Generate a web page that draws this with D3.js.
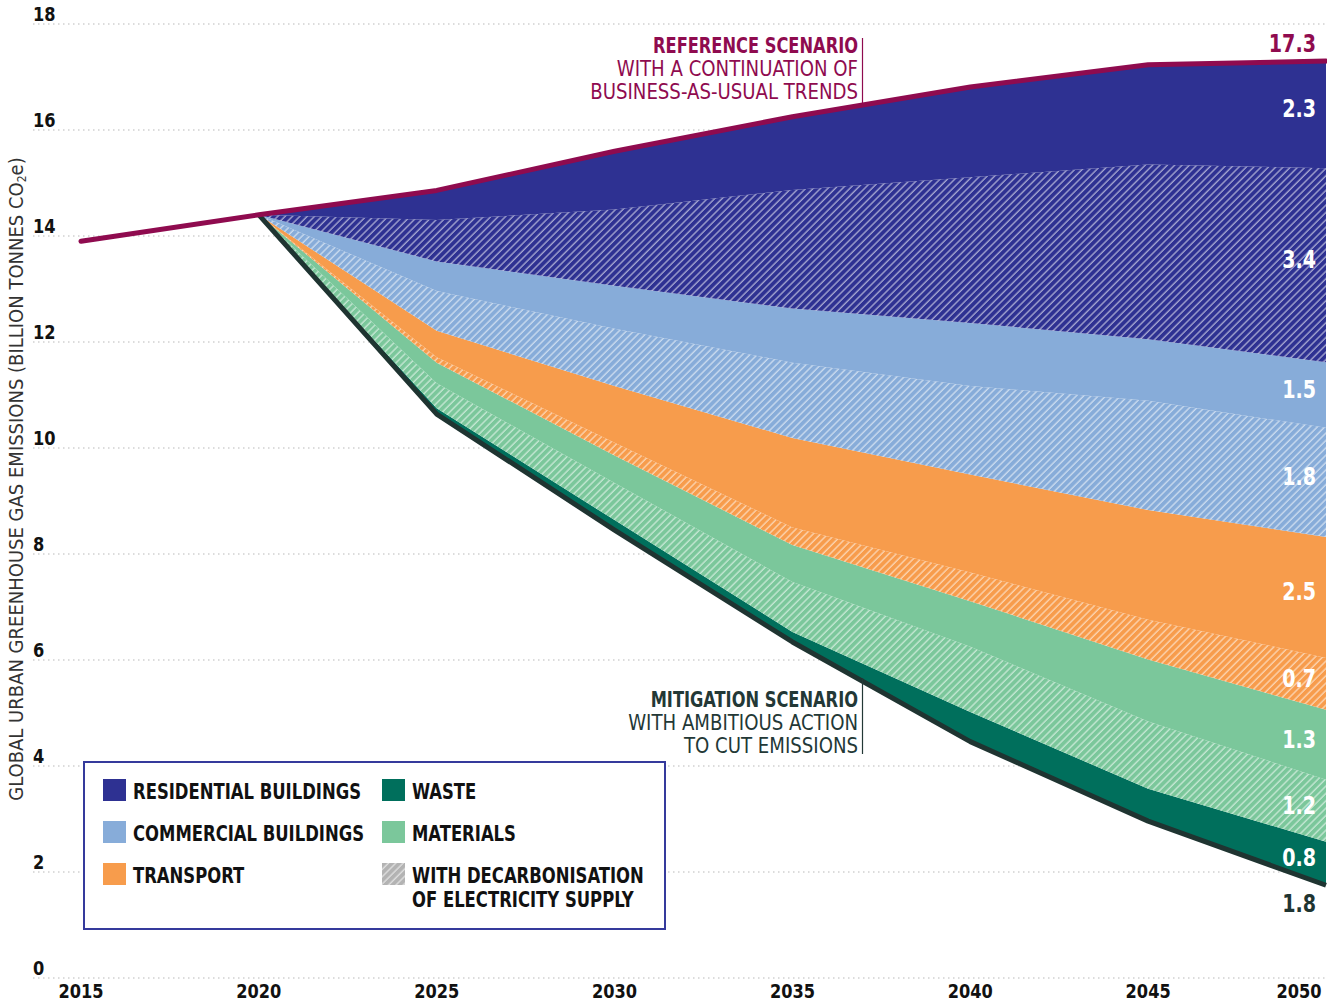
<!DOCTYPE html>
<html>
<head>
<meta charset="utf-8">
<script src="https://cdn.jsdelivr.net/npm/d3@7"></script>
<style>
  body { margin: 0; background: #fff; }
  svg { display: block; }
  text { font-family: "DejaVu Sans Condensed", "Liberation Sans Narrow", "Roboto", sans-serif; }
</style>
</head>
<body>
<svg id="chart" width="1327" height="1003"></svg>
<script>
// --- data (billion tonnes CO2e) ---
const refYears = [2015, 2020, 2025, 2030, 2035, 2040, 2045, 2050]
const refValues = [13.9, 14.4, 14.86, 15.6, 16.25, 16.81, 17.23, 17.3]

const years = [2020, 2025, 2030, 2035, 2040, 2045, 2050]
const mitigation = [14.4, 10.64, 8.45, 6.34, 4.46, 2.96, 1.75]   // remaining emissions
const waste = [0, 0.11, 0.19, 0.19, 0.56, 0.61, 0.82]
const materialsDecarb = [0, 0.47, 0.70, 0.94, 1.23, 1.27, 1.17]
const materials = [0, 0.39, 0.52, 0.70, 0.86, 1.17, 1.32]
const transportDecarb = [0, 0.10, 0.24, 0.33, 0.54, 0.75, 0.98]
const transport = [0, 0.50, 1.07, 1.69, 1.85, 2.07, 2.28]
const commercialDecarb = [0, 0.75, 1.08, 1.42, 1.67, 2.06, 2.06]
const commercial = [0, 0.56, 0.81, 1.02, 1.19, 1.16, 1.24]
const residentialDecarb = [0, 0.78, 1.44, 2.24, 2.75, 3.30, 3.66]
const residential = [0, 0.56, 1.10, 1.38, 1.70, 1.88, 2.02]

// labels printed at 2050, bottom to top
const endLabels = ["0.8", "1.2", "1.3", "0.7", "2.5", "1.8", "1.5", "3.4", "2.3"]
const refEndLabel = "17.3"
const mitEndLabel = "1.8"

const yTicks = [0, 2, 4, 6, 8, 10, 12, 14, 16, 18]
const xTicks = [2015, 2020, 2025, 2030, 2035, 2040, 2045, 2050]

const legendItems = [
  {label: ["RESIDENTIAL BUILDINGS"], color: "#2e3192"},
  {label: ["COMMERCIAL BUILDINGS"], color: "#87acd9"},
  {label: ["TRANSPORT"], color: "#f79c4c"},
  {label: ["WASTE"], color: "#006f5c"},
  {label: ["MATERIALS"], color: "#7bc79b"},
  {label: ["WITH DECARBONISATION", "OF ELECTRICITY SUPPLY"], color: "#b3b3b3", hatch: true}
]

// --- layout ---
const svg = d3.select("#chart")
const x = d3.scaleLinear().domain([2015, 2050]).range([81, 1326])
const y = d3.scaleLinear().domain([0, 18]).range([978, 24])

const COL = {
  residential: "#2e3192",
  commercial: "#87acd9",
  transport: "#f79c4c",
  materials: "#7bc79b",
  waste: "#006f5c",
  ref: "#8f0b4f",
  mit: "#1f3431"
}

// squeeze text horizontally, the original uses a condensed face
function condense(sel, f) {
  sel.each(function () {
    const w = this.getComputedTextLength()
    d3.select(this).attr("textLength", w * f).attr("lengthAdjust", "spacingAndGlyphs")
  })
}

// hatch patterns
const defs = svg.append("defs")
function hatch(id, color) {
  const p = defs.append("pattern")
    .attr("id", id)
    .attr("patternUnits", "userSpaceOnUse")
    .attr("width", 5.2).attr("height", 5.2)
    .attr("patternTransform", "rotate(45)")
  p.append("rect").attr("width", 5.2).attr("height", 5.2).attr("fill", color)
  p.append("line").attr("x1", 1).attr("x2", 1).attr("y1", 0).attr("y2", 5.2)
    .attr("stroke", "#fff").attr("stroke-opacity", 0.65).attr("stroke-width", 1.2)
}
hatch("h-res", COL.residential)
hatch("h-com", COL.commercial)
hatch("h-tr", COL.transport)
hatch("h-mat", COL.materials)
hatch("h-grey", "#b3b3b3")

// gridlines
svg.append("g").selectAll("line")
  .data(yTicks)
  .join("line")
  .attr("x1", 33).attr("x2", 1327)
  .attr("y1", d => y(d)).attr("y2", d => y(d))
  .attr("stroke", "#b9b9b9")
  .attr("stroke-width", 1.2)
  .attr("stroke-dasharray", "1.5,3.5")

// y tick labels
svg.append("g").selectAll("text")
  .data(yTicks)
  .join("text")
  .attr("x", 33).attr("y", d => y(d) - 3)
  .attr("font-size", 20).attr("font-weight", "bold").attr("fill", "#111")
  .text(d => d)
  .call(condense, 0.9)

// x tick labels (last one pulled in from the edge)
svg.append("g").selectAll("text")
  .data(xTicks)
  .join("text")
  .attr("x", (d, i) => i === xTicks.length - 1 ? 1299 : x(d))
  .attr("y", 998)
  .attr("text-anchor", "middle")
  .attr("font-size", 20).attr("font-weight", "bold").attr("fill", "#111")
  .text(d => d)
  .call(condense, 0.9)

// y axis title
const yt = svg.append("text")
  .attr("transform", "translate(23,479) rotate(-90)")
  .attr("text-anchor", "middle")
  .attr("font-size", 20).attr("fill", "#333")
yt.append("tspan").text("GLOBAL URBAN GREENHOUSE GAS EMISSIONS (BILLION TONNES CO")
yt.append("tspan").attr("font-size", 12).attr("dy", 3).text("2")
yt.append("tspan").attr("dy", -3).text("e)")

// stacked areas
const keys = ["base", "waste", "matH", "mat", "trH", "tr", "comH", "com", "resH", "res"]
const fills = {
  waste: COL.waste, matH: "url(#h-mat)", mat: COL.materials,
  trH: "url(#h-tr)", tr: COL.transport, comH: "url(#h-com)", com: COL.commercial,
  resH: "url(#h-res)", res: COL.residential
}
const table = years.map((yr, i) => ({
  year: yr, base: mitigation[i], waste: waste[i],
  matH: materialsDecarb[i], mat: materials[i],
  trH: transportDecarb[i], tr: transport[i],
  comH: commercialDecarb[i], com: commercial[i],
  resH: residentialDecarb[i], res: residential[i]
}))
const series = d3.stack().keys(keys)(table)

const area = d3.area()
  .x(d => x(d.data.year))
  .y0(d => y(d[0]))
  .y1(d => y(d[1]))

svg.append("g").selectAll("path")
  .data(series.filter(s => s.key !== "base"))
  .join("path")
  .attr("fill", s => fills[s.key])
  .attr("d", area)

// mitigation line
const line = d3.line().x(d => x(d[0])).y(d => y(d[1]))
svg.append("path")
  .datum(years.map((yr, i) => [yr, mitigation[i]]))
  .attr("fill", "none").attr("stroke", COL.mit).attr("stroke-width", 5)
  .attr("stroke-linejoin", "round")
  .attr("d", line)

// reference line
svg.append("path")
  .datum(refYears.map((yr, i) => [yr, refValues[i]]))
  .attr("fill", "none").attr("stroke", COL.ref).attr("stroke-width", 5)
  .attr("stroke-linecap", "round").attr("stroke-linejoin", "round")
  .attr("d", line)

// end labels
const last = series.slice(1).map((s, i) => ({
  mid: (s[s.length - 1][0] + s[s.length - 1][1]) / 2,
  label: endLabels[i]
}))
svg.append("g").selectAll("text")
  .data(last)
  .join("text")
  .attr("x", 1316).attr("y", d => y(d.mid) - 6)
  .attr("dy", "0.35em")
  .attr("text-anchor", "end")
  .attr("font-size", 25).attr("font-weight", "bold").attr("fill", "#fff")
  .text(d => d.label)
  .call(condense, 0.85)

svg.append("text")
  .attr("x", 1316).attr("y", 52)
  .attr("text-anchor", "end")
  .attr("font-size", 25).attr("font-weight", "bold").attr("fill", COL.ref)
  .text(refEndLabel)
  .call(condense, 0.85)
svg.append("text")
  .attr("x", 1316).attr("y", y(mitigation[mitigation.length - 1]) + 27)
  .attr("text-anchor", "end")
  .attr("font-size", 25).attr("font-weight", "bold").attr("fill", COL.mit)
  .text(mitEndLabel)
  .call(condense, 0.85)

// annotations
function note(lines, yTop, color, lineTop, lineBottom) {
  const g = svg.append("g")
  lines.forEach((t, i) => {
    g.append("text")
      .attr("x", 858).attr("y", yTop + i * 23)
      .attr("text-anchor", "end")
      .attr("font-size", 21)
      .attr("font-weight", i === 0 ? "bold" : "normal")
      .attr("fill", color)
      .text(t)
      .call(condense, i === 0 ? 0.86 : 0.96)
  })
  g.append("line")
    .attr("x1", 862.5).attr("x2", 862.5)
    .attr("y1", lineTop).attr("y2", lineBottom)
    .attr("stroke", color).attr("stroke-width", 1.2)
}
note(["REFERENCE SCENARIO", "WITH A CONTINUATION OF", "BUSINESS-AS-USUAL TRENDS"], 53, COL.ref, 38, 106)
note(["MITIGATION SCENARIO", "WITH AMBITIOUS ACTION", "TO CUT EMISSIONS"], 707, "#233836", 678, 754)

// legend
const lg = svg.append("g")
lg.append("rect")
  .attr("x", 84).attr("y", 762).attr("width", 581).attr("height", 167)
  .attr("fill", "#fff").attr("stroke", "#353a9c").attr("stroke-width", 2)
legendItems.forEach((d, i) => {
  const col = Math.floor(i / 3), row = i % 3
  const gx = col === 0 ? 103 : 382
  const gy = 779 + row * 42
  lg.append("rect")
    .attr("x", gx).attr("y", gy).attr("width", 23).attr("height", 22)
    .attr("fill", d.hatch ? "url(#h-grey)" : d.color)
  d.label.forEach((t, j) => {
    lg.append("text")
      .attr("x", gx + 30).attr("y", gy + 20 + j * 24)
      .attr("font-size", 21).attr("font-weight", "bold").attr("fill", "#111")
      .text(t)
      .call(condense, 0.87)
  })
})
</script>
</body>
</html>
